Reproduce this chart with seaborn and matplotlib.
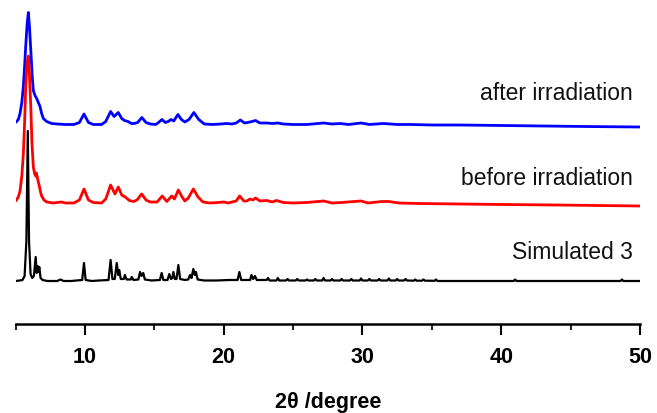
import matplotlib
matplotlib.use("Agg")
import matplotlib.pyplot as plt
from matplotlib.ticker import MultipleLocator
import seaborn as sns
import pandas as pd

# Series names (drawn bottom-up in z order: after, before, simulated on top)
names = ["after irradiation", "before irradiation", "Simulated 3"]
colors = ["#0000FF", "#FF0000", "#000000"]
offsets = [199.5, 121, 43]

# after irradiation (blue) - 2theta / intensity
after_2theta = [5.0, 5.2, 5.32, 5.45, 5.56, 5.65, 5.73, 5.83, 5.92, 6.0, 6.11, 6.2, 6.28,
                6.4, 6.52, 6.64, 6.76, 6.88, 7.0, 7.24, 7.6, 8.0, 8.6, 9.2, 9.6, 9.93,
                10.25, 10.6, 11.2, 11.5, 11.85, 12.1, 12.4, 12.65, 12.85, 13.1, 13.35,
                13.55, 13.8, 14.1, 14.4, 14.7, 15.1, 15.3, 15.55, 15.8, 16.0, 16.2, 16.4,
                16.7, 16.95, 17.2, 17.5, 17.85, 18.2, 18.6, 19.2, 19.8, 20.2, 20.6, 20.9,
                21.2, 21.5, 21.9, 22.3, 22.6, 23.1, 23.5, 23.9, 24.3, 25.0, 26.0, 27.2,
                27.8, 28.4, 29.0, 29.9, 30.5, 31.5, 32.5, 33.5, 35.0, 37.0, 40.0, 43.0,
                46.0, 50.0]
after_int = [2, 5, 11, 22, 38, 58, 78, 100, 112, 98, 71, 48, 34,
             29, 26, 22, 18, 11, 6, 3, 1, 0.5, 0, 0, 2, 10.5,
             2, 0, 0, 3, 13, 8, 12, 6, 4, 3, 1,
             1, 2, 7, 2, 0.5, 0, 2, 5, 2, 3, 5, 3.5,
             10, 5, 2.5, 5, 12, 5, 0.5, 0, 0.5, 1, 0.5, 1.5,
             4.5, 1.5, 2.5, 4, 1.5, 1.5, 1, 1.5, 0.5, 0, 0, 1.5,
             0.5, 1, 0, 1.5, 0, 1, 0, 0, -0.5, -0.5, -1, -1.5,
             -2, -2.5]

# before irradiation (red)
before_2theta = [5.0, 5.2, 5.32, 5.45, 5.56, 5.65, 5.73, 5.82, 5.92, 6.0, 6.09, 6.18, 6.28,
                 6.38, 6.45, 6.5, 6.56, 6.64, 6.71, 6.8, 6.88, 7.05, 7.24, 7.7, 8.0, 8.3,
                 8.6, 9.2, 9.6, 9.93, 10.25, 10.6, 11.2, 11.5, 11.85, 12.16, 12.4, 12.65,
                 12.9, 13.2, 13.5, 13.75, 14.09, 14.4, 14.7, 15.2, 15.57, 15.9, 16.25,
                 16.45, 16.73, 17.0, 17.2, 17.45, 17.81, 18.15, 18.5, 19.0, 19.6, 20.0,
                 20.3, 20.6, 20.9, 21.15, 21.45, 21.66, 21.9, 22.1, 22.3, 22.6, 23.1, 23.5,
                 23.8, 24.3, 25.0, 26.0, 27.2, 27.8, 28.5, 29.9, 30.4, 31.4, 31.9, 32.6,
                 34.0, 37.0, 40.0, 44.0, 47.0, 50.0]
before_int = [2, 6, 12, 27, 49, 80, 116, 140, 147, 128, 99, 60, 36,
              29, 27, 30, 26, 21, 17, 11, 7, 3, 1, 0, 0.5, 1,
              0, 0, 3, 14, 3, 0.5, 0, 4, 18, 9, 16, 8,
              6, 2.5, 1.5, 3, 9, 3, 1, 1, 7, 1.5, 7,
              4, 13, 6, 2, 5, 14, 6, 1, 0, 0.5, 1,
              0, 1, 2, 7, 2, 2, 4, 3, 5, 2, 2.5, 1,
              2.5, 0.5, 0, 0.5, 2, 0, 0.5, 2, 0, 1.5, 1.5, 0,
              -0.5, -1, -1.5, -2, -2.5, -3]

# Simulated 3 (black)
sim_2theta = [5.0, 5.3, 5.5, 5.65, 5.78, 5.88, 5.97, 6.08, 6.2, 6.32, 6.45, 6.52, 6.59,
              6.65, 6.71, 6.8, 6.95, 7.3, 8.0, 8.25, 8.45, 9.0, 9.8, 9.93, 10.05, 10.5,
              11.0, 11.7, 11.85, 11.98, 12.15, 12.29, 12.4, 12.47, 12.58, 12.8, 12.88,
              13.0, 13.3, 13.37, 13.5, 13.85, 13.97, 14.08, 14.2, 14.32, 14.8, 15.4,
              15.53, 15.65, 15.95, 16.08, 16.2, 16.3, 16.37, 16.48, 16.6, 16.73, 16.86,
              17.2, 17.45, 17.57, 17.68, 17.81, 17.92, 18.0, 18.12, 18.6, 19.5, 20.4,
              21.0, 21.13, 21.26, 21.9, 22.0, 22.12, 22.25, 22.38, 23.1, 23.2, 23.3,
              23.8, 23.9, 24.0, 24.5, 24.6, 24.7, 25.2, 25.3, 25.4, 25.9, 26.0, 26.1,
              26.5, 26.6, 26.7, 27.1, 27.2, 27.3, 27.7, 27.8, 27.9, 28.4, 28.5, 28.6,
              29.1, 29.2, 29.3, 29.8, 29.9, 30.0, 30.4, 30.5, 30.6, 31.1, 31.2, 31.3,
              31.8, 31.9, 32.0, 32.4, 32.5, 32.6, 33.0, 33.1, 33.2, 33.7, 33.8, 33.9,
              34.3, 34.4, 34.5, 35.2, 35.3, 35.4, 38.0, 40.9, 41.0, 41.1, 45.0, 48.6,
              48.7, 48.8, 50.0]
sim_int = [0, 0.5, 1, 5, 40, 150, 40, 7, 3, 5, 24, 8, 15,
           9, 14, 3, 1, 0, 0, 1.5, 0, 0, 1, 18, 1, 0,
           0.5, 1, 21, 2, 2, 18, 6, 11, 2, 2, 6,
           1.5, 1.5, 4, 1, 1.5, 9, 5, 8, 1.5, 0.5, 1,
           8, 1, 1, 7, 2, 3, 9, 2, 2, 16, 2,
           1, 1.5, 6, 3, 12, 6, 9, 1.5, 0.5, 0.5, 1,
           1, 9, 1, 1, 6, 2, 5, 1, 1, 3, 0.5,
           0.5, 3, 0.5, 0.5, 2, 0.5, 0.5, 2, 0.5, 0.5, 1.5, 0.5,
           0.5, 2, 0.5, 0.5, 3, 0.5, 0.5, 2, 0.5, 0.5, 2, 0.5,
           0.5, 2, 0.5, 0.5, 2.5, 0.5, 0.5, 2, 0.5, 0.5, 2, 0.5,
           0.5, 2.5, 0.5, 0.5, 2, 0.5, 0.5, 2, 0.5, 0.3, 1.5, 0.3,
           0.3, 1.5, 0.3, 0.2, 1.5, 0, 0, 0, 1.5, 0, 0, 0,
           1.5, 0, 0]

x_ticks = [10, 20, 30, 40, 50]

# build a long table, stacking each pattern on its offset
frames = []
for name, xs, ys, off in zip(names, [after_2theta, before_2theta, sim_2theta],
                             [after_int, before_int, sim_int], offsets):
    frames.append(pd.DataFrame({"2theta": xs, "I": [v + off for v in ys], "pattern": name}))
df = pd.concat(frames, ignore_index=True)

sns.set_theme(style="white")
plt.rcParams['font.family'] = ['Liberation Sans', 'DejaVu Sans']

fig = plt.figure(figsize=(6.57, 4.14), dpi=100, facecolor='white')
ax = fig.add_axes([0.0237, 0.215, 0.9504, 0.785])

for name, col, lw in zip(names, colors, [2.0, 2.0, 1.6]):
    sns.lineplot(data=df[df["pattern"] == name], x="2theta", y="I", color=col,
                 linewidth=lw, estimator=None, sort=False, ax=ax, legend=False)

# labels at the right
label_y = [225, 140, 66]
for name, ly in zip(names, label_y):
    ax.text(49.5, ly, name, ha='right', va='baseline', fontsize=16.5, color='#111111')

ax.set_xlim(5, 50)
ax.set_ylim(0, 325)
ax.set_xticks(x_ticks)
ax.xaxis.set_minor_locator(MultipleLocator(5))
ax.set_yticks([])
for s in ['left', 'top', 'right']:
    ax.spines[s].set_visible(False)
ax.spines['bottom'].set_linewidth(1.8)
ax.spines['bottom'].set_color('black')
ax.tick_params(axis='x', which='major', direction='out', length=8, width=1.5,
               pad=7.5, labelsize=15.5, colors='black', bottom=True)
ax.tick_params(axis='x', which='minor', direction='out', length=4.5, width=1.5, bottom=True)
for lab in ax.get_xticklabels():
    lab.set_fontweight('bold')

ax.set_xlabel("2θ /degree", fontsize=15.5, fontweight='bold', labelpad=17.5, color='black')
ax.set_ylabel("")
ax.patch.set_alpha(0)

fig.savefig("out.png", dpi=100, facecolor='white')
plt.close(fig)
